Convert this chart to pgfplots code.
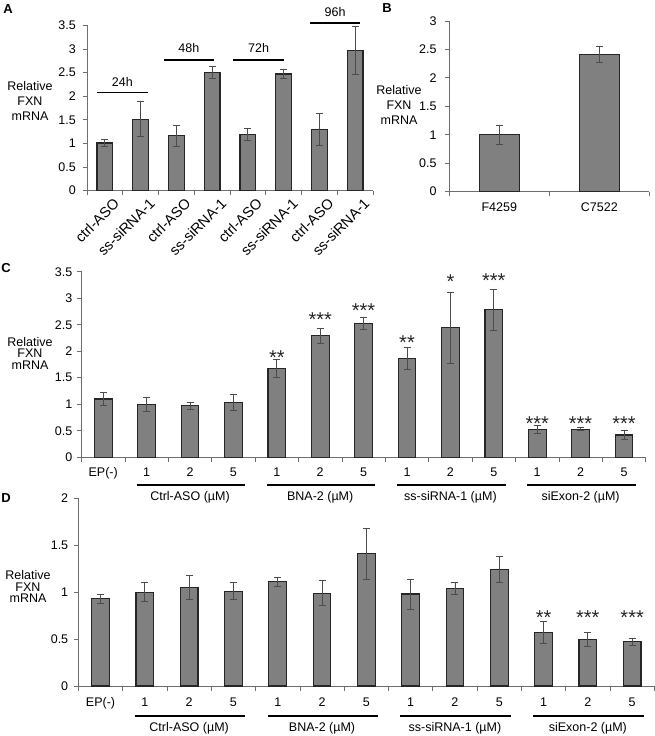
\documentclass[border=0pt]{standalone}
\usepackage{fontspec}
\setmainfont{Liberation Sans}
\usepackage{pgfplots}
\pgfplotsset{compat=1.18}
\definecolor{barfill}{RGB}{128,128,128}
\definecolor{axisgray}{RGB}{110,110,110}
\newcommand\fs{\fontsize{12.5}{14}\selectfont}
\newcommand\starfont{\fontsize{20}{20}\selectfont}
\pgfplotsset{
  base/.style={
    scale only axis, axis lines=left, axis line style={-, draw=axisgray, line width=0.8pt},
    enlargelimits=false, ymin=0, clip=false,
    major tick length=0pt, minor tick length=4.5pt, tick align=outside,
    minor tick style={draw=axisgray, line width=0.8pt},
    tick label style={font=\fs},
    /pgf/number format/assume math mode=true,
    yticklabel style={anchor=east, inner sep=0pt},
  },
  bars/.style={
    ybar, bar width=#1, fill=barfill, draw=black!85, line width=1.1pt,
    error bars/.cd, y dir=both, y explicit,
    error bar style={line width=0.8pt, draw=black!70},
    error mark options={rotate=90, draw=black!70, line width=0.8pt, mark size=3.5pt},
  },
  stars/.style={
    draw=none, mark=none, nodes near coords, point meta=explicit symbolic,
    every node near coord/.append style={font=\starfont, anchor=base, inner sep=0pt, text=black!85},
  },
}
\begin{document}
\begin{tikzpicture}
\useasboundingbox (0pt,0pt) rectangle (655pt,736pt);
% ---------------- Panel A
\begin{axis}[base, at={(87pt,545.3pt)}, anchor=south west, width=286pt, height=165.4pt,
  xmin=-0.5, xmax=7.5, ymax=3.5,
  xtick={0,...,7}, minor xtick={-0.5,0.5,...,7.5},
  ytick={0,0.5,...,3.5}, minor ytick={0,0.5,...,3.5},
  yticklabel style={xshift=-11pt},
  xticklabels={ctrl-ASO,ss-siRNA-1,ctrl-ASO,ss-siRNA-1,ctrl-ASO,ss-siRNA-1,ctrl-ASO,ss-siRNA-1},
  xticklabel style={font=\fontsize{14.5}{16}\selectfont, rotate=45, anchor=north east, inner sep=1pt, xshift=2pt, yshift=-9pt},
]
\addplot[bars=15.7pt] coordinates {
 (0,1.01) +- (0,0.07)
 (1,1.51) +- (0,0.37)
 (2,1.16) +- (0,0.23)
 (3,2.50) +- (0,0.12)
 (4,1.19) +- (0,0.13)
 (5,2.47) +- (0,0.10)
 (6,1.30) +- (0,0.34)
 (7,2.97) +- (0,0.50)
};
\draw[line width=1.6pt] (axis cs:-0.22,2.08) -- (axis cs:1.2,2.08);
\node[font=\fs] at (axis cs:0.49,2.31) {24h};
\draw[line width=1.6pt] (axis cs:1.65,2.77) -- (axis cs:3.05,2.77);
\node[font=\fs] at (axis cs:2.35,3.02) {48h};
\draw[line width=1.6pt] (axis cs:3.59,2.77) -- (axis cs:5.02,2.77);
\node[font=\fs] at (axis cs:4.3,3.02) {72h};
\draw[line width=1.6pt] (axis cs:5.74,3.55) -- (axis cs:7.14,3.55);
\node[font=\fs] at (axis cs:6.44,3.79) {96h};
\end{axis}
% ---------------- Panel B
\begin{axis}[base, at={(449.3pt,544.3pt)}, anchor=south west, width=200pt, height=170.7pt,
  xmin=-0.5, xmax=1.5, ymax=3,
  xtick={0,1}, minor xtick={-0.5,0.5,1.5},
  ytick={0,0.5,...,3}, minor ytick={0,0.5,...,3},
  yticklabel style={xshift=-12.6pt},
  xticklabels={F4259,C7522},
  xticklabel style={anchor=base, yshift=-19.5pt},
]
\addplot[bars=40pt] coordinates {
 (0,1.00) +- (0,0.17)
 (1,2.41) +- (0,0.14)
};
\end{axis}
% ---------------- Panel C
\begin{axis}[base, at={(81.5pt,278.7pt)}, anchor=south west, width=564.2pt, height=185.6pt,
  xmin=-0.5, xmax=12.5, ymax=3.5,
  xtick={0,...,12}, minor xtick={-0.5,0.5,...,12.5},
  ytick={0,0.5,...,3.5}, minor ytick={0,0.5,...,3.5},
  yticklabel style={xshift=-9pt},
  xticklabels={EP(-),1,2,5,1,2,5,1,2,5,1,2,5},
  xticklabel style={anchor=base, yshift=-19.5pt},
]
\addplot[bars=17.7pt] coordinates {
 (0,1.10) +- (0,0.12)
 (1,1.00) +- (0,0.13)
 (2,0.97) +- (0,0.07)
 (3,1.03) +- (0,0.15)
 (4,1.67) +- (0,0.17)
 (5,2.29) +- (0,0.14)
 (6,2.52) +- (0,0.11)
 (7,1.87) +- (0,0.21)
 (8,2.44) +- (0,0.67)
 (9,2.78) +- (0,0.38)
 (10,0.53) +- (0,0.08)
 (11,0.53) +- (0,0.03)
 (12,0.42) +- (0,0.09)
};
\addplot[stars] coordinates {
 (4,1.745) [**]
 (5,2.465) [***]
 (6,2.645) [***]
 (7,2.025) [**]
 (8,3.175) [*]
 (9,3.21) [***]
 (10,0.505) [***]
 (11,0.505) [***]
 (12,0.505) [***]
};
\draw[line width=1.5pt] (axis cs:0.77,-0.523) -- (axis cs:3.27,-0.523);
\draw[line width=1.5pt] (axis cs:3.77,-0.523) -- (axis cs:6.27,-0.523);
\draw[line width=1.5pt] (axis cs:6.77,-0.523) -- (axis cs:9.27,-0.523);
\draw[line width=1.5pt] (axis cs:9.77,-0.523) -- (axis cs:12.27,-0.523);
\node[font=\fs] at (axis cs:2,-0.747) {Ctrl-ASO (µM)};
\node[font=\fs] at (axis cs:5,-0.747) {BNA-2 (µM)};
\node[font=\fs] at (axis cs:8,-0.747) {ss-siRNA-1 (µM)};
\node[font=\fs] at (axis cs:11,-0.747) {siExon-2 (µM)};
\end{axis}
% ---------------- Panel D
\begin{axis}[base, at={(78.4pt,50pt)}, anchor=south west, width=575.9pt, height=187.7pt,
  xmin=-0.5, xmax=12.5, ymax=2,
  xtick={0,...,12}, minor xtick={-0.5,0.5,...,12.5},
  ytick={0,0.5,...,2}, minor ytick={0,0.5,...,2},
  yticklabel style={xshift=-10pt},
  xticklabels={EP(-),1,2,5,1,2,5,1,2,5,1,2,5},
  xticklabel style={anchor=base, yshift=-20pt},
]
\addplot[bars=17.7pt] coordinates {
 (0,0.93) +- (0,0.05)
 (1,1.00) +- (0,0.10)
 (2,1.05) +- (0,0.13)
 (3,1.01) +- (0,0.09)
 (4,1.11) +- (0,0.05)
 (5,0.99) +- (0,0.13)
 (6,1.41) +- (0,0.27)
 (7,0.98) +- (0,0.16)
 (8,1.04) +- (0,0.06)
 (9,1.24) +- (0,0.14)
 (10,0.57) +- (0,0.115)
 (11,0.50) +- (0,0.075)
 (12,0.47) +- (0,0.04)
};
\addplot[stars] coordinates {
 (10,0.66) [**]
 (11,0.66) [***]
 (12,0.66) [***]
};
\draw[line width=1.5pt] (axis cs:0.77,-0.317) -- (axis cs:3.27,-0.317);
\draw[line width=1.5pt] (axis cs:3.77,-0.317) -- (axis cs:6.27,-0.317);
\draw[line width=1.5pt] (axis cs:6.77,-0.317) -- (axis cs:9.27,-0.317);
\draw[line width=1.5pt] (axis cs:9.77,-0.317) -- (axis cs:12.27,-0.317);
\node[font=\fs] at (axis cs:2,-0.451) {Ctrl-ASO (µM)};
\node[font=\fs] at (axis cs:5,-0.451) {BNA-2 (µM)};
\node[font=\fs] at (axis cs:8,-0.451) {ss-siRNA-1 (µM)};
\node[font=\fs] at (axis cs:11,-0.451) {siExon-2 (µM)};
\end{axis}
% ---------------- labels
\node[font=\fontsize{12.5}{15}\selectfont, align=center] at (30pt,635pt) {Relative\\FXN\\mRNA};
\node[font=\fontsize{12.5}{15}\selectfont, align=center] at (399pt,631pt) {Relative\\FXN\\mRNA};
\node[font=\fontsize{12.5}{11.5}\selectfont, align=center] at (30pt,383pt) {Relative\\FXN\\mRNA};
\node[font=\fontsize{12.5}{11.5}\selectfont, align=center] at (28pt,149.3pt) {Relative\\FXN\\mRNA};
\node[font=\bfseries\fontsize{13}{13}\selectfont] at (8pt,727pt) {A};
\node[font=\bfseries\fontsize{13}{13}\selectfont] at (387pt,728pt) {B};
\node[font=\bfseries\fontsize{13}{13}\selectfont] at (6pt,468pt) {C};
\node[font=\bfseries\fontsize{13}{13}\selectfont] at (6pt,238pt) {D};
\end{tikzpicture}
\end{document}
